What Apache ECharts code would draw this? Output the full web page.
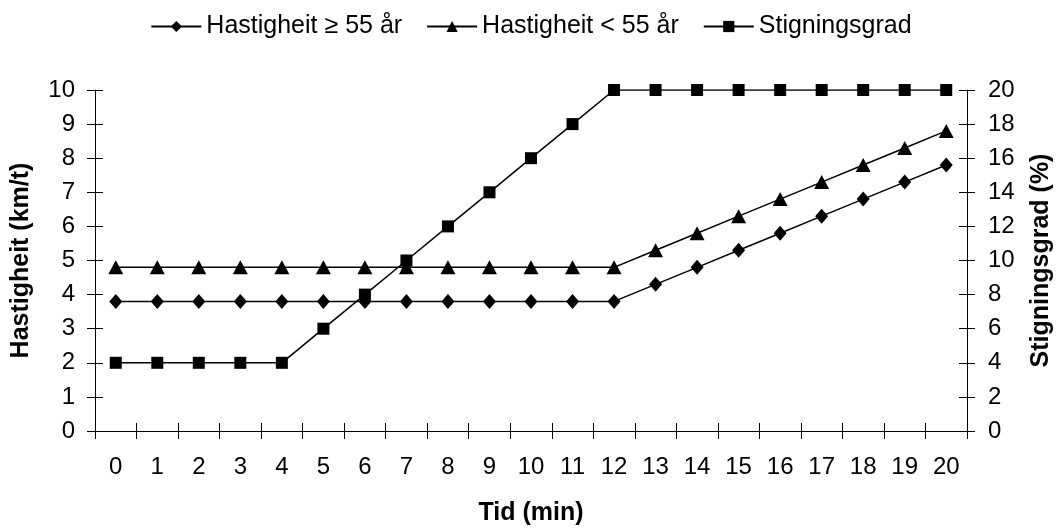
<!DOCTYPE html>
<html>
<head>
<meta charset="utf-8">
<script src="https://cdn.jsdelivr.net/npm/echarts@6/dist/echarts.min.js"></script>
<style>
  html, body { margin: 0; padding: 0; background: #fff; }
  #chart { width: 1062px; height: 531px; }
</style>
</head>
<body>
<div id="chart"></div>
<script>
const minutes = ['0','1','2','3','4','5','6','7','8','9','10','11','12','13','14','15','16','17','18','19','20'];
const speedOver55 = [3.8,3.8,3.8,3.8,3.8,3.8,3.8,3.8,3.8,3.8,3.8,3.8,3.8,4.3,4.8,5.3,5.8,6.3,6.8,7.3,7.8];
const speedUnder55 = [4.8,4.8,4.8,4.8,4.8,4.8,4.8,4.8,4.8,4.8,4.8,4.8,4.8,5.3,5.8,6.3,6.8,7.3,7.8,8.3,8.8];
const incline = [4,4,4,4,4,6,8,10,12,14,16,18,20,20,20,20,20,20,20,20,20];

const font = 'Liberation Sans, Arial, sans-serif';
const chart = echarts.init(document.getElementById('chart'));

const lineStyle = { color: '#000', width: 1.5 };
const axisLine = { show: true, lineStyle: { color: '#000', width: 1 } };
const axisTick = { show: true, length: 8, lineStyle: { color: '#000' } };
const innerTick = { show: true, inside: true, length: 8, lineStyle: { color: '#000' } };
const axisLabel = { color: '#000', fontSize: 24, fontFamily: font };
const nameStyle = { color: '#000', fontSize: 25, fontWeight: 'bold', fontFamily: font };

// second copies of the axes only draw the inner half of each tick mark
const speedAxis = { type: 'value', min: 0, max: 10, interval: 1 };
const inclineAxis = { type: 'value', min: 0, max: 20, interval: 2, position: 'right' };

chart.setOption({
  animation: false,
  backgroundColor: '#fff',
  legend: {
    left: 'center',
    top: 9,
    itemWidth: 50,
    itemHeight: 14,
    itemGap: 24,
    textStyle: { color: '#000', fontSize: 25, fontFamily: font },
    data: ['Hastigheit ≥ 55 år', 'Hastigheit < 55 år', 'Stigningsgrad']
  },
  grid: { left: 95, right: 86, top: 90, bottom: 95 },
  xAxis: [{
    type: 'category',
    data: minutes,
    position: 'bottom',
    name: 'Tid (min)',
    nameLocation: 'middle',
    nameGap: 70,
    nameTextStyle: nameStyle,
    axisLine: axisLine,
    axisTick: axisTick,
    axisLabel: Object.assign({ interval: 0, margin: 24 }, axisLabel),
    splitLine: { show: false }
  }, {
    type: 'category',
    data: minutes,
    position: 'bottom',
    axisLine: { show: false },
    axisTick: innerTick,
    axisLabel: { show: false },
    splitLine: { show: false }
  }],
  yAxis: [Object.assign({
    name: 'Hastigheit (km/t)',
    nameLocation: 'middle',
    nameRotate: 90,
    nameGap: 61,
    nameTextStyle: nameStyle,
    axisLine: axisLine,
    axisTick: axisTick,
    axisLabel: Object.assign({ margin: 20 }, axisLabel),
    splitLine: { show: false }
  }, speedAxis, { position: 'left' }), Object.assign({
    name: 'Stigningsgrad (%)',
    nameLocation: 'middle',
    nameRotate: 90,
    nameGap: 62,
    nameTextStyle: nameStyle,
    axisLine: axisLine,
    axisTick: axisTick,
    axisLabel: Object.assign({ margin: 21 }, axisLabel),
    splitLine: { show: false }
  }, inclineAxis), Object.assign({
    axisLine: { show: false },
    axisTick: innerTick,
    axisLabel: { show: false },
    splitLine: { show: false }
  }, speedAxis, { position: 'left' }), Object.assign({
    axisLine: { show: false },
    axisTick: innerTick,
    axisLabel: { show: false },
    splitLine: { show: false }
  }, inclineAxis)],
  series: [{
    name: 'Hastigheit ≥ 55 år',
    type: 'line',
    data: speedOver55,
    symbol: 'diamond',
    symbolSize: [13, 15],
    itemStyle: { color: '#000' },
    lineStyle: lineStyle
  }, {
    name: 'Hastigheit < 55 år',
    type: 'line',
    data: speedUnder55,
    symbol: 'triangle',
    symbolSize: [15, 14],
    itemStyle: { color: '#000' },
    lineStyle: lineStyle
  }, {
    name: 'Stigningsgrad',
    type: 'line',
    yAxisIndex: 1,
    data: incline,
    symbol: 'rect',
    symbolSize: 12,
    itemStyle: { color: '#000' },
    lineStyle: lineStyle
  }]
});
</script>
</body>
</html>
